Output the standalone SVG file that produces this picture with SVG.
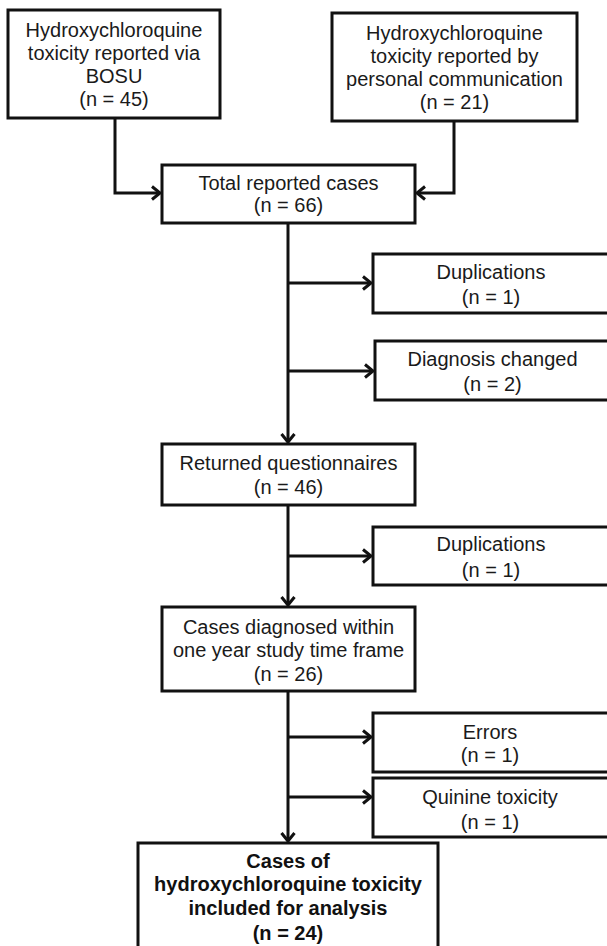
<svg xmlns="http://www.w3.org/2000/svg" width="607" height="946" viewBox="0 0 607 946">
<defs>
<marker id="arr" markerUnits="userSpaceOnUse" markerWidth="14" markerHeight="16" refX="10" refY="8" orient="auto">
<path d="M2,1.5 L10,8 L2,14.5" fill="none" stroke="#111" stroke-width="3"/>
</marker>
<style>
.box{fill:#fff;stroke:#111;stroke-width:3}
.t{font-family:"Liberation Sans",Arial,sans-serif;font-size:20px;fill:#1a1a1a;text-anchor:middle}
.b{font-weight:bold;fill:#111}
.c{fill:none;stroke:#111;stroke-width:3}
</style>
</defs>
<rect width="607" height="946" fill="#fff"/>
<g id="connectors">
<path class="c" d="M115,118 V193 H160" marker-end="url(#arr)"/>
<path class="c" d="M454,121 V193 H417" marker-end="url(#arr)"/>
<path class="c" d="M288,223 V442" marker-end="url(#arr)"/>
<path class="c" d="M288,283 H371" marker-end="url(#arr)"/>
<path class="c" d="M288,371 H373" marker-end="url(#arr)"/>
<path class="c" d="M288,505 V605" marker-end="url(#arr)"/>
<path class="c" d="M288,556 H371" marker-end="url(#arr)"/>
<path class="c" d="M288,691 V841" marker-end="url(#arr)"/>
<path class="c" d="M288,737 H371" marker-end="url(#arr)"/>
<path class="c" d="M288,797 H371" marker-end="url(#arr)"/>
</g>
<g id="bosu">
<rect class="box" x="8" y="10" width="212" height="108"/>
<text class="t" x="114" y="37">Hydroxychloroquine</text>
<text class="t" x="114" y="60">toxicity reported via</text>
<text class="t" x="114" y="83">BOSU</text>
<text class="t" x="114" y="106">(n = 45)</text>
</g>
<g id="personal">
<rect class="box" x="332" y="13" width="245" height="108"/>
<text class="t" x="454.5" y="40">Hydroxychloroquine</text>
<text class="t" x="454.5" y="63">toxicity reported by</text>
<text class="t" x="454.5" y="86">personal communication</text>
<text class="t" x="454.5" y="109">(n = 21)</text>
</g>
<g id="total">
<rect class="box" x="162" y="165" width="253" height="58"/>
<text class="t" x="288.5" y="190">Total reported cases</text>
<text class="t" x="288.5" y="212">(n = 66)</text>
</g>
<g id="dup1">
<rect class="box" x="373" y="254" width="238" height="59"/>
<text class="t" x="491" y="279">Duplications</text>
<text class="t" x="491" y="304">(n = 1)</text>
</g>
<g id="diag">
<rect class="box" x="375" y="341" width="238" height="59"/>
<text class="t" x="492.5" y="366">Diagnosis changed</text>
<text class="t" x="492.5" y="391">(n = 2)</text>
</g>
<g id="returned">
<rect class="box" x="162" y="444" width="253" height="61"/>
<text class="t" x="288.5" y="470">Returned questionnaires</text>
<text class="t" x="288.5" y="494">(n = 46)</text>
</g>
<g id="dup2">
<rect class="box" x="373" y="527" width="238" height="58"/>
<text class="t" x="491" y="551">Duplications</text>
<text class="t" x="491" y="577">(n = 1)</text>
</g>
<g id="within">
<rect class="box" x="162" y="607" width="253" height="84"/>
<text class="t" x="288.5" y="634">Cases diagnosed within</text>
<text class="t" x="288.5" y="657">one year study time frame</text>
<text class="t" x="288.5" y="681">(n = 26)</text>
</g>
<g id="errors">
<rect class="box" x="373" y="713" width="238" height="59"/>
<text class="t" x="490" y="739">Errors</text>
<text class="t" x="490" y="762">(n = 1)</text>
</g>
<g id="quinine">
<rect class="box" x="373" y="778" width="238" height="59"/>
<text class="t" x="490" y="804">Quinine toxicity</text>
<text class="t" x="490" y="829">(n = 1)</text>
</g>
<g id="final">
<rect class="box" x="138" y="843" width="300" height="112"/>
<text class="t b" x="288" y="868">Cases of</text>
<text class="t b" x="288" y="891">hydroxychloroquine toxicity</text>
<text class="t b" x="288" y="915">included for analysis</text>
<text class="t b" x="288" y="940">(n = 24)</text>
</g>
</svg>
